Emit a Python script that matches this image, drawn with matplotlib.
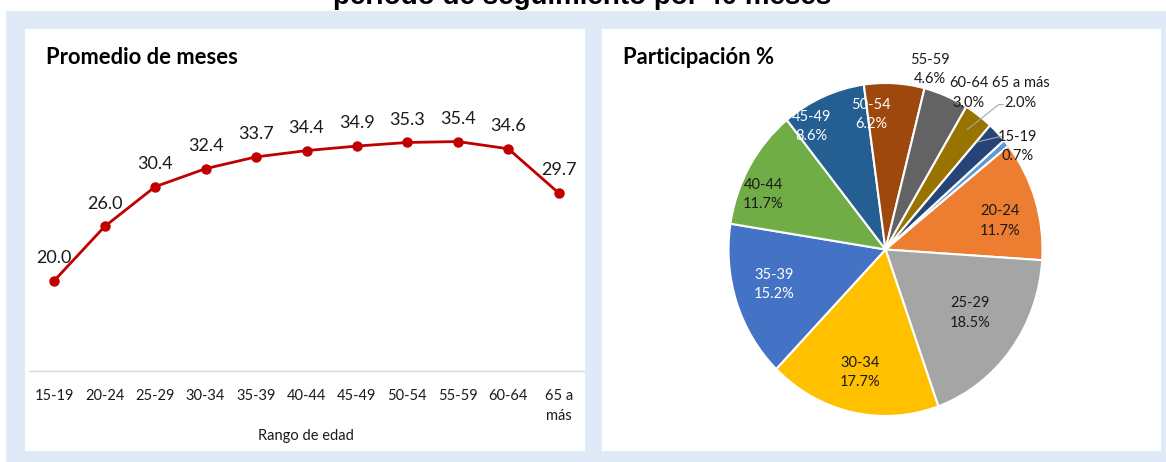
import matplotlib
matplotlib.use("Agg")
import matplotlib.pyplot as plt
from matplotlib.patches import Rectangle

# --- datos ---
rangos = ["15-19", "20-24", "25-29", "30-34", "35-39", "40-44",
          "45-49", "50-54", "55-59", "60-64", "65 a más"]
promedio_meses = [20.0, 26.0, 30.4, 32.4, 33.7, 34.4, 34.9, 35.3, 35.4, 34.6, 29.7]
participacion = [0.7, 11.7, 18.5, 17.7, 15.2, 11.7, 8.6, 6.2, 4.6, 3.0, 2.0]

titulo = "periodo de seguimiento por 40 meses"
colores_pie = ["#5B9BD5", "#ED7D31", "#A5A5A5", "#FFC000", "#4472C4", "#70AD47",
               "#255E91", "#9E480E", "#636363", "#997300", "#264478"]
# etiquetas del pie: posicion en unidades del eje del pie, color de texto
pos_etiq = {
    "20-24": (0.73, 0.17), "25-29": (0.54, -0.38), "30-34": (-0.16, -0.74),
    "35-39": (-0.71, -0.21), "40-44": (-0.78, 0.33), "45-49": (-0.47, 0.74),
    "50-54": (-0.09, 0.81), "55-59": (0.28, 1.08), "60-64": (0.53, 0.94),
    "65 a más": (0.86, 0.94), "15-19": (0.84, 0.62),
}
texto_blanco = {"35-39", "45-49", "50-54"}
guias = {"65 a más": [(0.52, 0.72), (0.72, 0.87), (0.75, 0.87)],
         "15-19": [(0.585, 0.646), (0.72, 0.676), (0.75, 0.676)]}

W, H = 1166, 462
BG = "#DEEBF7"
FONT = ["Lato", "DejaVu Sans"]
plt.rcParams["font.family"] = FONT


def fx(px):
    return px / W


def fy(py):
    return 1 - py / H


def box(l, t, r, b):
    return [fx(l), fy(b), fx(r) - fx(l), fy(t) - fy(b)]


fig = plt.figure(figsize=(W / 100, H / 100), dpi=100, facecolor="white")

# fondo y paneles
fig.patches.append(Rectangle((fx(6), 0), 1 - fx(6), fy(11), transform=fig.transFigure,
                             facecolor=BG, edgecolor="none", zorder=1))
for l, t, r, b in [(25, 29, 585, 451), (602, 29, 1161, 451)]:
    fig.patches.append(Rectangle((fx(l), fy(b)), fx(r) - fx(l), fy(t) - fy(b),
                                 transform=fig.transFigure, facecolor="white",
                                 edgecolor="none", zorder=1))

# titulo general (cortado arriba, como en la imagen original)
fig.text(fx(582), fy(4), titulo, ha="center", va="baseline", fontsize=20,
         fontweight="bold", family=["Liberation Sans", "DejaVu Sans"], zorder=0)

# --- panel izquierdo: linea ---
ax = fig.add_axes(box(29, 100, 584, 371))
ax.set_zorder(3)
ax.set_facecolor("none")
x = list(range(len(rangos)))
ax.plot(x, promedio_meses, color="#C00000", lw=2.0, marker="o", ms=6.5,
        solid_capstyle="round", zorder=3)
for xi, v in zip(x, promedio_meses):
    ax.annotate(f"{v:.1f}", (xi, v), xytext=(0, 16.5), textcoords="offset points",
                ha="center", va="center", fontsize=13, color="#1a1a1a")
ax.set_xlim(-0.5, len(rangos) - 0.5)
ax.set_ylim(10, 40)
ax.set_yticks([])
ax.set_xticks(x)
ax.set_xticklabels([r.replace(" a más", " a\nmás") for r in rangos], fontsize=10.5,
                   color="#1a1a1a", linespacing=1.5, va="top")
ax.tick_params(axis="x", length=0, pad=13)
for s in ("top", "left", "right"):
    ax.spines[s].set_visible(False)
ax.spines["bottom"].set_color("#D9D9D9")
ax.spines["bottom"].set_linewidth(1.0)
fig.text(fx(306), fy(436), "Rango de edad", ha="center", va="center",
         fontsize=10.5, color="#1a1a1a")
fig.text(fx(46), fy(57), "Promedio de meses", ha="left", va="center",
         fontsize=15.8, fontweight="bold", color="black")

# --- panel derecho: pie ---
fig.text(fx(623), fy(57), "Participación %", ha="left", va="center",
         fontsize=15.8, fontweight="bold", color="black")
ax2 = fig.add_axes(box(728.5, 83, 1042.5, 416))
ax2.set_zorder(3)
ax2.pie(participacion, colors=colores_pie, startangle=41.0, counterclock=False,
        wedgeprops=dict(edgecolor="white", linewidth=1.5))
ax2.set_aspect("auto")
ax2.set_xlim(-1, 1)
ax2.set_ylim(-1, 1)
ax2.axis("off")
for r, v in zip(rangos, participacion):
    px, py = pos_etiq[r]
    c = "white" if r in texto_blanco else "#1a1a1a"
    ax2.text(px, py, f"{r}\n{v:.1f}%", ha="center", va="center", fontsize=10.5,
             color=c, linespacing=1.5, clip_on=False)
for pts in guias.values():
    ax2.plot([p[0] for p in pts], [p[1] for p in pts], color="#A6A6A6", lw=0.8,
             clip_on=False)

fig.savefig("out.png", dpi=100, facecolor="white")
